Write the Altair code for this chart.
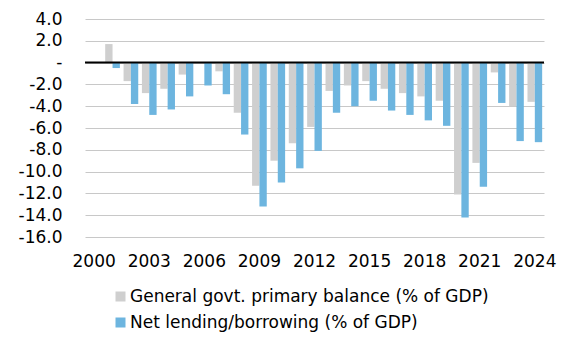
import altair as alt
import pandas as pd

years = list(range(2000, 2025))
primary_balance = [None, 1.7, -1.7, -2.8, -2.4, -1.1, -0.05, -0.8, -4.6, -11.3,
                   -9.0, -7.4, -5.9, -2.6, -2.1, -1.7, -2.4, -2.8, -3.1, -3.5,
                   -12.1, -9.2, -0.9, -4.0, -3.6]
net_lending = [None, -0.5, -3.8, -4.8, -4.3, -3.1, -2.1, -2.9, -6.6, -13.2,
               -11.0, -9.7, -8.1, -4.6, -4.0, -3.5, -4.4, -4.8, -5.3, -5.8,
               -14.2, -11.4, -3.7, -7.2, -7.3]
series_names = ["General govt. primary balance (% of GDP)",
                "Net lending/borrowing (% of GDP)"]
series_colors = ["#CFCFCF", "#6DB5DF"]
y_ticks = [-16, -14, -12, -10, -8, -6, -4, -2, 0, 2, 4]
x_label_years = [2000, 2003, 2006, 2009, 2012, 2015, 2018, 2021, 2024]
zero_line = [0]

rows = []
for i, yr in enumerate(years):
    rows.append({"year": yr, "series": series_names[0], "value": primary_balance[i]})
    rows.append({"year": yr, "series": series_names[1], "value": net_lending[i]})
df = pd.DataFrame(rows)

FONT = "DejaVu Sans"
FS = 17

y_label_expr = ("datum.value == 0 ? '-' : (datum.value < 0 ? '-' + format(-datum.value, '.1f') "
                ": format(datum.value, '.1f'))")

y_scale = alt.Scale(domain=[-16, 4], nice=False, zero=False)
y_axis = alt.Axis(values=y_ticks, labelExpr=y_label_expr, grid=True,
                  gridColor="#C8C8C8", gridWidth=1, ticks=False, domain=False,
                  labelPadding=23, labelFont=FONT, labelFontSize=FS,
                  labelOverlap=False, labelBound=False,
                  labelColor="black", title=None)

bars = alt.Chart(df).mark_bar(strokeWidth=0).encode(
    x=alt.X("year:O",
            scale=alt.Scale(domain=years, paddingInner=0.2, paddingOuter=0.1),
            axis=alt.Axis(values=x_label_years, labelAngle=0, ticks=False, domain=False,
                          grid=False, labelFont=FONT, labelFontSize=FS, labelColor="black",
                          labelPadding=16, labelOverlap=False, title=None)),
    xOffset=alt.XOffset("series:N", scale=alt.Scale(domain=series_names, paddingInner=0, paddingOuter=0)),
    y=alt.Y("value:Q", scale=y_scale, axis=y_axis),
    color=alt.Color("series:N",
                    scale=alt.Scale(domain=series_names, range=series_colors),
                    legend=alt.Legend(orient="none", legendX=27, legendY=269, title=None,
                                      direction="vertical", symbolType="square",
                                      symbolSize=100, symbolStrokeWidth=0, symbolOpacity=1,
                                      labelFont=FONT, labelFontSize=FS, labelColor="black",
                                      labelOffset=1, rowPadding=8, padding=0,
                                      labelLimit=500)),
)

rule = alt.Chart(pd.DataFrame({"y": zero_line})).mark_rule(color="black", strokeWidth=2).encode(
    y=alt.Y("y:Q", scale=y_scale, axis=y_axis)
)

chart = alt.layer(bars, rule).properties(
    width=459,
    height=218,
    autosize=alt.AutoSizeParams(type="none"),
    padding={"left": 85, "top": 19, "right": 36, "bottom": 102},
).configure_view(stroke=None)

chart.save("out.html", embed_options={"renderer": "svg", "actions": False})
